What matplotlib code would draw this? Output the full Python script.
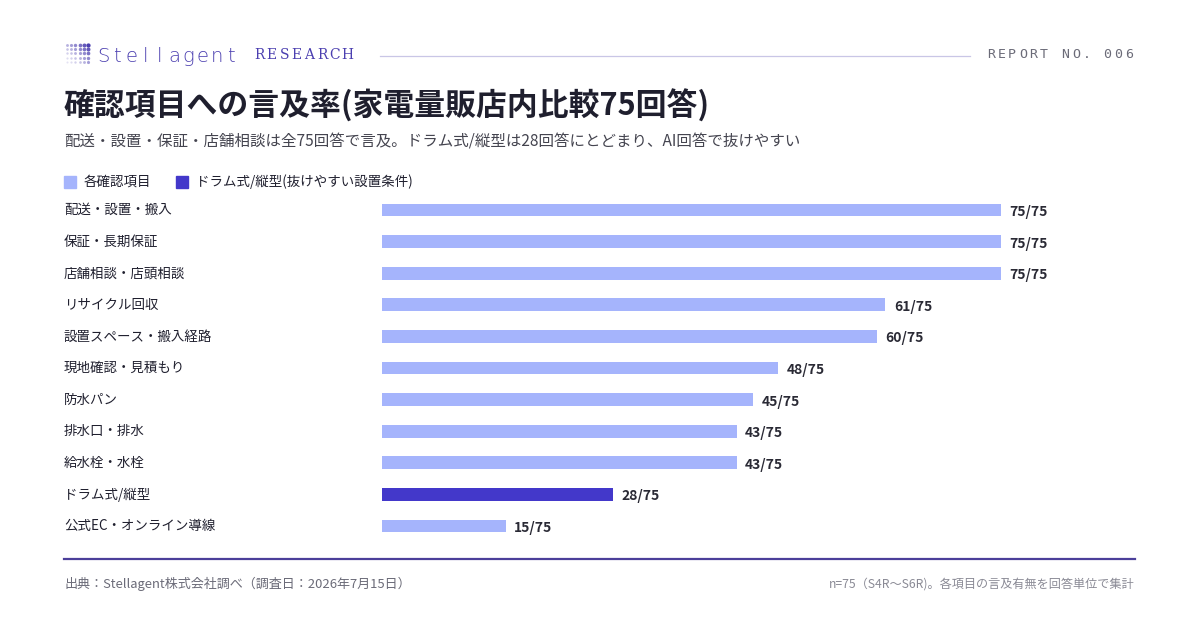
import matplotlib
matplotlib.use("Agg")
import matplotlib.pyplot as plt
import matplotlib.transforms as mtransforms
import numpy as np

plt.rcParams["font.family"] = ["Noto Sans CJK JP", "DejaVu Sans"]

# データ
categories = [
    "配送・設置・搬入", "保証・長期保証", "店舗相談・店頭相談", "リサイクル回収",
    "設置スペース・搬入経路", "現地確認・見積もり", "防水パン", "排水口・排水",
    "給水栓・水栓", "ドラム式/縦型", "公式EC・オンライン導線",
]
counts = [75, 75, 75, 61, 60, 48, 45, 43, 43, 28, 15]
total = 75
highlight = "ドラム式/縦型"

C_LIGHT = "#a5b4fc"
C_DARK = "#4338ca"
C_TEXT = "#1f1f2e"
C_GRAY = "#6b6b78"
C_BRAND = "#4b3fb0"

W, H = 1200, 630
fig = plt.figure(figsize=(12, 6.3), dpi=100)
fig.patch.set_facecolor("white")


def fx(px):
    return px / W


def fy(py):
    return 1 - py / H


def spaced(x0, y0, s, step, **kw):
    # 文字間隔を広げたテキスト(ロゴ・ヘッダー用)
    for k, ch in enumerate(s):
        fig.text(fx(x0 + k * step), fy(y0), ch, ha="center", va="center", **kw)


# ヘッダー: ロゴのドット
for r in range(5):
    for c in range(6):
        strength = (c + (4 - r)) / 9
        size = 1.5 + 5 * strength ** 1.5
        alpha = 0.15 + 0.85 * strength ** 1.5
        fig.add_artist(plt.Line2D([fx(67 + c * 4.2)], [fy(45 + r * 4.2)], marker="o",
                                  markersize=size ** 0.5 * 1.2, color=C_BRAND,
                                  alpha=alpha, markeredgewidth=0, transform=fig.transFigure))
spaced(103, 56, "Stellagent", 14.2, fontsize=14, color=C_BRAND,
       family=["DejaVu Sans"], fontweight="light")
spaced(259, 55, "RESEARCH", 12.6, fontsize=10, color=C_BRAND, family=["DejaVu Serif"])
fig.add_artist(plt.Line2D([fx(380), fx(970)], [fy(56), fy(56)], color="#c9c6e6", lw=0.9,
                          transform=fig.transFigure))
spaced(991, 55, "REPORT NO. 006", 10.6, fontsize=9.5, color=C_GRAY,
       family=["DejaVu Sans Mono"])

# タイトル
fig.text(fx(64), fy(106), "確認項目への言及率(家電量販店内比較75回答)", fontsize=22.2,
         fontweight="bold", color=C_TEXT, va="center")
fig.text(fx(64), fy(142),
         "配送・設置・保証・店舗相談は全75回答で言及。ドラム式/縦型は28回答にとどまり、AI回答で抜けやすい",
         fontsize=11.15, color="#44444f", va="center")

# 凡例
fig.add_artist(plt.Rectangle((fx(64), fy(188)), fx(12), 12 / H, color=C_LIGHT,
                             transform=fig.transFigure))
fig.text(fx(84), fy(182), "各確認項目", fontsize=9.7, color=C_TEXT, va="center")
fig.add_artist(plt.Rectangle((fx(176), fy(188)), fx(12), 12 / H, color=C_DARK,
                             transform=fig.transFigure))
fig.text(fx(196), fy(182), "ドラム式/縦型(抜けやすい設置条件)", fontsize=9.7, color=C_TEXT,
         va="center")

# 棒グラフ
ax = fig.add_axes([fx(382), fy(541.8), fx(1001) - fx(382), (541.8 - 194.2) / H])
y = np.arange(len(categories))
colors = [C_DARK if c == highlight else C_LIGHT for c in categories]
ax.barh(y, counts, height=0.41, color=colors)
ax.set_xlim(0, total)
ax.set_ylim(len(categories) - 0.5, -0.5)
ax.axis("off")

trans = mtransforms.blended_transform_factory(fig.transFigure, ax.transData)
for i, (cat, n) in enumerate(zip(categories, counts)):
    ax.text(fx(64), i, cat, transform=trans, fontsize=9.7, color=C_TEXT, va="center")
    ax.annotate(f"{n}/{total}", (n, i), xytext=(6, -1.5), textcoords="offset points",
                fontsize=10, fontweight="bold", color="#2a2a35", va="center",
                annotation_clip=False)

# フッター
fig.add_artist(plt.Line2D([fx(64), fx(1135)], [fy(559), fy(559)], color="#4b3f9a", lw=1.6,
                          transform=fig.transFigure))
fig.text(fx(64), fy(584), "出典：Stellagent株式会社調べ（調査日：2026年7月15日）", fontsize=9.4,
         color=C_GRAY, va="center")
fig.text(fx(1135), fy(584), "n=75（S4R〜S6R)。各項目の言及有無を回答単位で集計", fontsize=8.75,
         color="#8a8a95", va="center", ha="right")

fig.savefig("out.png", dpi=100)
